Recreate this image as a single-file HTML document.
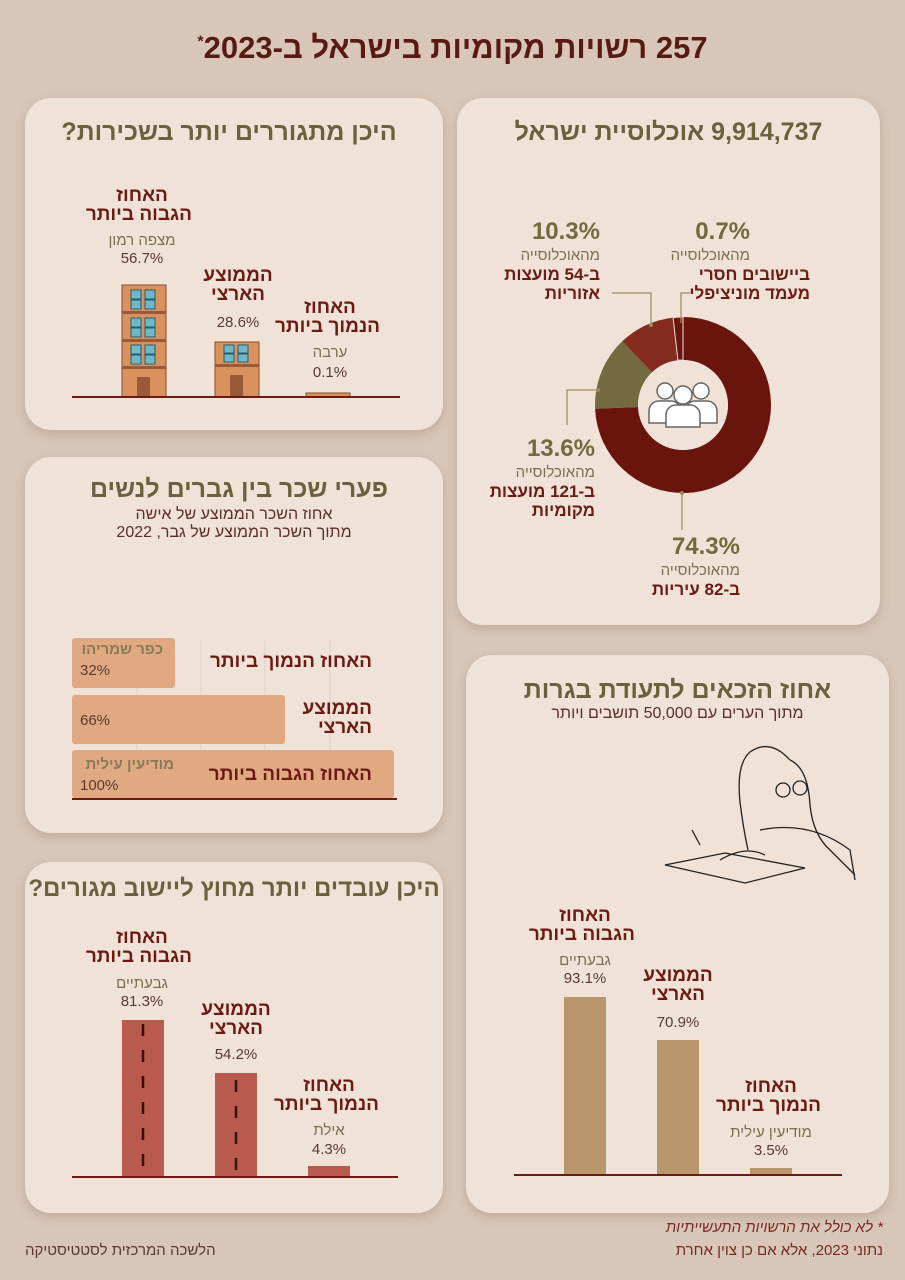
<!DOCTYPE html>
<html><head><meta charset="utf-8">
<style>
*{margin:0;padding:0;box-sizing:border-box}
body{width:905px;height:1280px;background:#d8c6b8;font-family:"Liberation Sans Narrow","Liberation Sans","DejaVu Sans",sans-serif;position:relative;overflow:hidden;direction:rtl}
.a{position:absolute}
.card{position:absolute;background:#f0e2d6;border-radius:26px;box-shadow:0 4px 10px rgba(120,90,70,.25)}
.t{position:absolute;text-align:center;white-space:nowrap}
.h{color:#6d6040;font-weight:bold;font-size:25px}
.r{color:#6b1a14;font-weight:bold;font-size:19px;line-height:19px}
.o{color:#7a7050;font-size:15px;line-height:18px}
.p{color:#5a3a30;font-size:15px;line-height:18px}
</style></head><body>
<div class="t" style="left:0;width:905px;top:30px;font-size:31px;font-weight:bold;color:#5a1a14">257 רשויות מקומיות בישראל ב-2023<sup style="font-size:16px">*</sup></div>

<!-- Card A -->
<div class="card" style="left:25px;top:98px;width:418px;height:332px"></div>
<div class="t h" style="left:25px;width:418px;top:118px;padding-right:10px">היכן מתגוררים יותר בשכירות?</div>
<div class="t r" style="left:92px;width:100px;top:186px">האחוז<br>הגבוה ביותר</div>
<div class="t o" style="left:92px;width:100px;top:232px">מצפה רמון</div>
<div class="t p" style="left:92px;width:100px;top:250px">56.7%</div>
<div class="t r" style="left:188px;width:100px;top:266px">הממוצע<br>הארצי</div>
<div class="t p" style="left:188px;width:100px;top:314px">28.6%</div>
<div class="t r" style="left:280px;width:100px;top:298px">האחוז<br>הנמוך ביותר</div>
<div class="t o" style="left:280px;width:100px;top:344px">ערבה</div>
<div class="t p" style="left:280px;width:100px;top:364px">0.1%</div>
<svg class="a" style="left:0;top:0" width="450" height="430">
<g fill="#d9925e" stroke="#8a4a2a" stroke-width="1">
<rect x="122" y="285" width="44" height="112"/>
<rect x="215" y="342" width="44" height="55"/>
<rect x="306" y="393" width="44" height="4"/>
</g>
<g fill="#9a5a38"><rect x="122" y="311" width="44" height="3"/><rect x="122" y="339" width="44" height="3"/><rect x="122" y="366" width="44" height="3"/><rect x="137" y="377" width="13" height="20"/><rect x="230" y="375" width="13" height="22"/><rect x="215" y="364" width="44" height="3"/></g>
<g fill="#6fb8c8" stroke="#2a5a6a" stroke-width="1">
<rect x="131" y="290" width="10" height="9"/><rect x="145" y="290" width="10" height="9"/><rect x="131" y="300" width="10" height="9"/><rect x="145" y="300" width="10" height="9"/>
<rect x="131" y="318" width="10" height="9"/><rect x="145" y="318" width="10" height="9"/><rect x="131" y="328" width="10" height="9"/><rect x="145" y="328" width="10" height="9"/>
<rect x="131" y="345" width="10" height="9"/><rect x="145" y="345" width="10" height="9"/><rect x="131" y="355" width="10" height="9"/><rect x="145" y="355" width="10" height="9"/>
<rect x="224" y="345" width="10" height="8"/><rect x="238" y="345" width="10" height="8"/><rect x="224" y="354" width="10" height="8"/><rect x="238" y="354" width="10" height="8"/>
</g>
<rect x="72" y="396" width="328" height="2" fill="#6b1a14"/>
</svg>

<!-- Card B -->
<div class="card" style="left:457px;top:98px;width:423px;height:527px"></div>
<div class="t h" style="left:457px;width:423px;top:118px">9,914,737 אוכלוסיית ישראל</div>
<svg class="a" style="left:0;top:0" width="905" height="640">
<g transform="translate(683,405)">
<path d="M0,-88 A88,88 0 1 1 -87.9,3.8 L-45,2 A45,45 0 1 0 0,-45 Z" fill="#6a140e"/>
<path d="M-87.9,3.8 A88,88 0 0 1 -60.7,-63.7 L-31,-32.6 A45,45 0 0 0 -45,2 Z" fill="#75693f"/>
<path d="M-60.7,-63.7 A88,88 0 0 1 -9.9,-87.4 L-5.1,-44.7 A45,45 0 0 0 -31,-32.6 Z" fill="#852a1e"/>
<path d="M-9.9,-87.4 A88,88 0 0 1 0,-88 L0,-45 A45,45 0 0 0 -5.1,-44.7 Z" fill="#6a140e" stroke="#f0e2d6" stroke-width="1"/>
<circle r="45" fill="#f0e2d6"/>
<g fill="#fff" stroke="#666" stroke-width="1.5">
<circle cx="-18" cy="-14" r="8"/><circle cx="18" cy="-14" r="8"/>
<path d="M-34,18 v-12 a10,10 0 0 1 10,-10 h12 a10,10 0 0 1 10,10 v12 z"/>
<path d="M2,18 v-12 a10,10 0 0 1 10,-10 h12 a10,10 0 0 1 10,10 v12 z"/>
<circle cx="0" cy="-10" r="9"/>
<path d="M-17,22 v-12 a10,10 0 0 1 10,-10 h14 a10,10 0 0 1 10,10 v12 z"/>
</g></g>
<g stroke="#a08860" stroke-width="1.2" fill="none">
<path d="M651,325 V293 H612"/>
<path d="M681,323 V293 H690"/>
<path d="M598,390 H567 V425"/>
<path d="M682,493 V530"/>
</g>
<g fill="#a08860"><circle cx="651" cy="325" r="2"/><circle cx="598" cy="390" r="2"/><circle cx="682" cy="493" r="2"/></g>
</svg>
<div class="t" style="left:610px;width:140px;top:218px;text-align:right;color:#75693f;font-weight:bold;font-size:24px">0.7%</div>
<div class="t o" style="left:610px;width:140px;top:247px;text-align:right">מהאוכלוסייה</div>
<div class="t r" style="left:610px;width:200px;top:265px;text-align:right;font-size:17px">ביישובים חסרי<br>מעמד מוניציפלי</div>
<div class="t" style="left:480px;width:120px;top:218px;text-align:right;color:#75693f;font-weight:bold;font-size:24px">10.3%</div>
<div class="t o" style="left:480px;width:120px;top:247px;text-align:right">מהאוכלוסייה</div>
<div class="t r" style="left:480px;width:120px;top:265px;text-align:right;font-size:17px">ב-54 מועצות<br>אזוריות</div>
<div class="t" style="left:470px;width:125px;top:435px;text-align:right;color:#75693f;font-weight:bold;font-size:24px">13.6%</div>
<div class="t o" style="left:470px;width:125px;top:464px;text-align:right">מהאוכלוסייה</div>
<div class="t r" style="left:470px;width:125px;top:482px;text-align:right;font-size:17px">ב-121 מועצות<br>מקומיות</div>
<div class="t" style="left:630px;width:110px;top:533px;text-align:right;color:#75693f;font-weight:bold;font-size:24px">74.3%</div>
<div class="t o" style="left:630px;width:110px;top:562px;text-align:right">מהאוכלוסייה</div>
<div class="t r" style="left:630px;width:110px;top:580px;text-align:right;font-size:17px">ב-82 עיריות</div>

<!-- Card C -->
<div class="card" style="left:25px;top:457px;width:418px;height:376px"></div>
<div class="t h" style="left:25px;width:418px;top:475px;padding-left:10px">פערי שכר בין גברים לנשים</div>
<div class="t p" style="left:25px;width:418px;top:506px;font-size:16px;color:#5a3028">אחוז השכר הממוצע של אישה<br>מתוך השכר הממוצע של גבר, 2022</div>
<svg class="a" style="left:0;top:0" width="450" height="840">
<g stroke="#ddd0c4" stroke-width="1"><line x1="137" y1="640" x2="137" y2="797"/><line x1="201" y1="640" x2="201" y2="797"/><line x1="265" y1="640" x2="265" y2="797"/><line x1="330" y1="640" x2="330" y2="797"/></g>
<g fill="#e0a982"><rect x="72" y="638" width="103" height="50" rx="3"/><rect x="72" y="695" width="213" height="49" rx="3"/><rect x="72" y="750" width="322" height="48" rx="3"/></g>
<rect x="72" y="798" width="325" height="2" fill="#6b1a14"/>
</svg>
<div class="t" style="right:742px;top:641px;font-weight:bold;font-size:15px;color:#8a7a55">כפר שמריהו</div>
<div class="t p" style="left:80px;top:662px;direction:ltr;text-align:left">32%</div>
<div class="t r" style="right:533px;top:652px">האחוז הנמוך ביותר</div>
<div class="t p" style="left:80px;top:712px;direction:ltr;text-align:left">66%</div>
<div class="t r" style="right:533px;top:699px;text-align:right">הממוצע<br>הארצי</div>
<div class="t" style="right:731px;top:756px;font-weight:bold;font-size:15px;color:#8a7a55">מודיעין עילית</div>
<div class="t p" style="left:80px;top:777px;direction:ltr;text-align:left">100%</div>
<div class="t r" style="right:533px;top:765px">האחוז הגבוה ביותר</div>

<!-- Card D -->
<div class="card" style="left:25px;top:862px;width:418px;height:351px"></div>
<div class="t h" style="left:25px;width:418px;top:875px;font-size:24px">היכן עובדים יותר מחוץ ליישוב מגורים?</div>
<div class="t r" style="left:92px;width:100px;top:928px">האחוז<br>הגבוה ביותר</div>
<div class="t o" style="left:92px;width:100px;top:975px">גבעתיים</div>
<div class="t p" style="left:92px;width:100px;top:993px">81.3%</div>
<div class="t r" style="left:186px;width:100px;top:1000px">הממוצע<br>הארצי</div>
<div class="t p" style="left:186px;width:100px;top:1046px">54.2%</div>
<div class="t r" style="left:279px;width:100px;top:1076px">האחוז<br>הנמוך ביותר</div>
<div class="t o" style="left:279px;width:100px;top:1122px">אילת</div>
<div class="t p" style="left:279px;width:100px;top:1141px">4.3%</div>
<svg class="a" style="left:0;top:0" width="450" height="1213">
<g fill="#b85a4e"><rect x="122" y="1020" width="42" height="157"/><rect x="215" y="1073" width="42" height="104"/><rect x="308" y="1166" width="42" height="11"/></g>
<g stroke="#3a0e0a" stroke-width="2.5" stroke-dasharray="12,14"><line x1="143" y1="1024" x2="143" y2="1177"/><line x1="236" y1="1080" x2="236" y2="1177"/></g>
<rect x="72" y="1176" width="326" height="2" fill="#6b1a14"/>
</svg>

<!-- Card E -->
<div class="card" style="left:466px;top:655px;width:423px;height:558px"></div>
<div class="t h" style="left:466px;width:423px;top:676px">אחוז הזכאים לתעודת בגרות</div>
<div class="t p" style="left:466px;width:423px;top:705px;font-size:16px;color:#5a3028">מתוך הערים עם 50,000 תושבים ויותר</div>
<svg class="a" style="left:0;top:0" width="905" height="900">
<g fill="none" stroke="#222" stroke-width="1.3">
<path d="M790,760 q-20,-22 -40,-8 q-14,12 -10,50 q3,25 8,48"/>
<path d="M790,760 q18,8 20,45 q3,30 20,45 l25,25"/>
<circle cx="783" cy="790" r="7"/><circle cx="800" cy="788" r="7"/>
<path d="M665,865 l60,-12 l80,15 l-60,15 z"/>
<path d="M700,845 l-8,-15"/>
<path d="M760,830 q50,-10 90,20 l5,30"/>
<path d="M720,860 q25,-15 45,-5"/>
</g></svg>
<div class="t r" style="left:535px;width:100px;top:906px">האחוז<br>הגבוה ביותר</div>
<div class="t o" style="left:535px;width:100px;top:952px">גבעתיים</div>
<div class="t p" style="left:535px;width:100px;top:970px">93.1%</div>
<div class="t r" style="left:628px;width:100px;top:966px">הממוצע<br>הארצי</div>
<div class="t p" style="left:628px;width:100px;top:1014px">70.9%</div>
<div class="t r" style="left:721px;width:100px;top:1077px">האחוז<br>הנמוך ביותר</div>
<div class="t o" style="left:721px;width:100px;top:1124px">מודיעין עילית</div>
<div class="t p" style="left:721px;width:100px;top:1142px">3.5%</div>
<svg class="a" style="left:0;top:0" width="905" height="1213">
<g fill="#b8956a"><rect x="564" y="997" width="42" height="178"/><rect x="657" y="1040" width="42" height="135"/><rect x="750" y="1168" width="42" height="7"/></g>
<rect x="514" y="1174" width="328" height="2" fill="#6b1a14"/>
</svg>

<div class="t" style="right:22px;top:1219px;color:#7a2a22;font-style:italic;font-size:15px">* לא כולל את הרשויות התעשייתיות</div>
<div class="t" style="right:22px;top:1242px;color:#7a2a22;font-size:15px">נתוני 2023, אלא אם כן צוין אחרת</div>
<div class="t" style="left:25px;top:1242px;color:#5a3a30;font-size:15px">הלשכה המרכזית לסטטיסטיקה</div>
</body></html>
